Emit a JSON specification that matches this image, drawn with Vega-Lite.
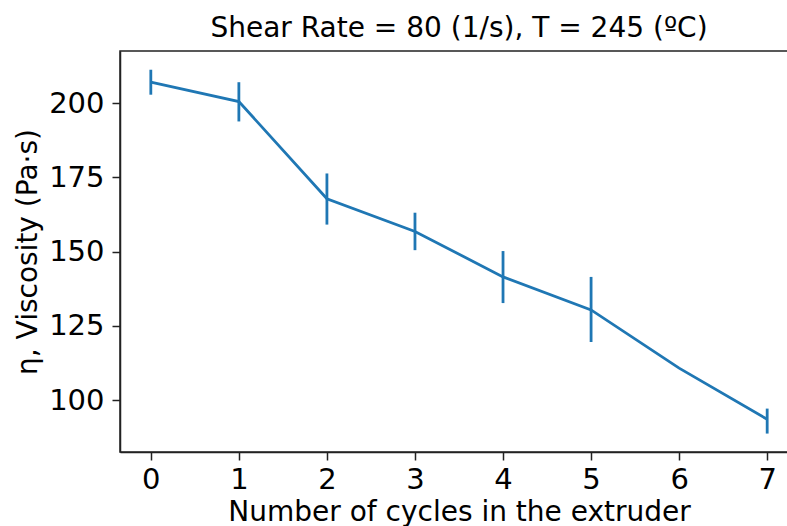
{
  "$schema": "https://vega.github.io/schema/vega-lite/v6.json",
  "width": 678,
  "height": 401,
  "autosize": "none",
  "padding": {"left": 120, "top": 51, "right": 0, "bottom": 74},
  "background": "white",
  "title": {
    "text": "Shear Rate = 80 (1/s), T = 245 (ºC)",
    "font": "DejaVu Sans",
    "fontSize": 28,
    "fontWeight": "normal",
    "color": "black",
    "anchor": "middle",
    "baseline": "alphabetic",
    "offset": -14
  },
  "config": {
    "view": {"stroke": "#222222", "strokeWidth": 1.5},
    "axis": {
      "labelFont": "DejaVu Sans",
      "titleFont": "DejaVu Sans",
      "labelFontSize": 29,
      "titleFontSize": 28,
      "titleFontWeight": "normal",
      "labelColor": "black",
      "titleColor": "black",
      "domainColor": "#222222",
      "domainWidth": 1.5,
      "tickColor": "#222222",
      "tickWidth": 1.5,
      "tickSize": 8,
      "grid": false
    }
  },
  "data": {
    "values": [
      {"cycles": 0, "viscosity": 207.0, "lo": 202.8, "hi": 211.2},
      {"cycles": 1, "viscosity": 200.5, "lo": 193.8, "hi": 207.0},
      {"cycles": 2, "viscosity": 167.8, "lo": 159.1, "hi": 176.3},
      {"cycles": 3, "viscosity": 156.8, "lo": 150.5, "hi": 163.1},
      {"cycles": 4, "viscosity": 141.5, "lo": 132.7, "hi": 150.2},
      {"cycles": 5, "viscosity": 130.4, "lo": 119.6, "hi": 141.5},
      {"cycles": 6, "viscosity": 110.8, "lo": null, "hi": null},
      {"cycles": 7, "viscosity": 93.6, "lo": 88.8, "hi": 97.2}
    ]
  },
  "encoding": {
    "x": {
      "field": "cycles",
      "type": "quantitative",
      "scale": {"domain": [-0.35, 7.35], "nice": false, "zero": false},
      "axis": {
        "values": [0, 1, 2, 3, 4, 5, 6, 7],
        "format": "d",
        "labelPadding": 5,
        "title": "Number of cycles in the extruder",
        "titlePadding": 4
      }
    }
  },
  "layer": [
    {
      "mark": {"type": "line", "color": "#1f77b4", "strokeWidth": 2.8},
      "encoding": {
        "y": {
          "field": "viscosity",
          "type": "quantitative",
          "scale": {"domain": [82.6, 217.5], "nice": false, "zero": false},
          "axis": {
            "values": [100, 125, 150, 175, 200],
            "labelPadding": 8,
            "title": "η, Viscosity (Pa·s)",
            "titlePadding": 6
          }
        }
      }
    },
    {
      "transform": [{"filter": "datum.lo != null"}],
      "mark": {"type": "rule", "color": "#1f77b4", "strokeWidth": 2.8},
      "encoding": {
        "y": {"field": "lo", "type": "quantitative"},
        "y2": {"field": "hi"}
      }
    }
  ]
}
